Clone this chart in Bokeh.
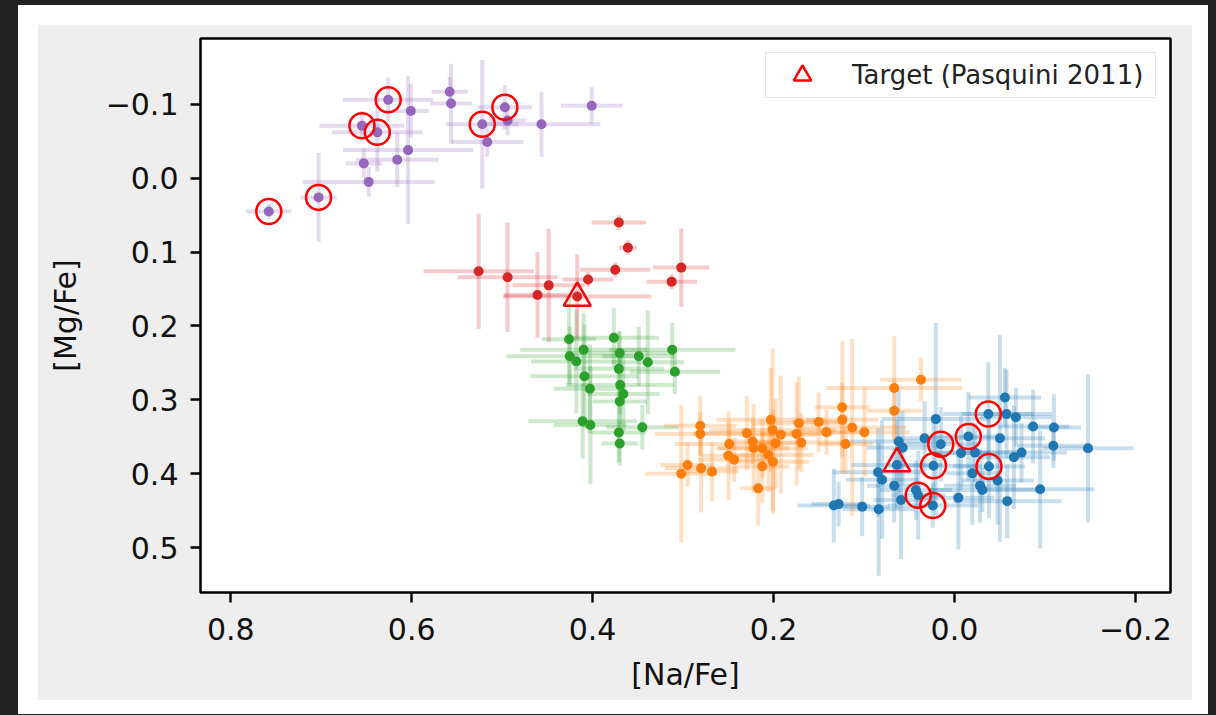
import numpy as np
from bokeh.plotting import figure
from bokeh.models import (Range1d, FixedTicker, CustomJSTickFormatter, Legend,
                          LegendItem)
from bokeh.layouts import column
from bokeh.embed import file_html
from bokeh.resources import INLINE

# ---------------- data ----------------
blue_na = [0.1333, 0.128, 0.102, 0.0837, 0.0845, 0.080, 0.0665, 0.0617, 0.0573, 0.059,
           0.0636, 0.0426, 0.040, 0.0239, 0.033, 0.0206, 0.0151, 0.0231, -0.0044, -0.0074,
           -0.0154, -0.0228, -0.0198, -0.0283, -0.0309, -0.0375, -0.0558, -0.0576, -0.068, -0.0503,
           -0.0382, -0.0477, -0.0584, -0.0658, -0.0742, -0.087, -0.110, -0.1094, -0.0948, -0.1477]
blue_mg = [0.443, 0.441, 0.4446, 0.448, 0.398, 0.408, 0.416, 0.3564, 0.3646, 0.4355,
           0.388, 0.422, 0.429, 0.443, 0.352, 0.326, 0.360, 0.389, 0.4324, 0.372,
           0.3496, 0.3713, 0.3994, 0.416, 0.422, 0.319, 0.2967, 0.319, 0.3234, 0.352,
           0.390, 0.409, 0.437, 0.3777, 0.3713, 0.336, 0.3374, 0.362, 0.421, 0.3654]
blue_xerr = [0.04, 0.03, 0.03, 0.04, 0.05, 0.04, 0.03, 0.06, 0.04, 0.03,
             0.05, 0.04, 0.03, 0.05, 0.03, 0.06, 0.04, 0.05, 0.04, 0.03,
             0.04, 0.05, 0.03, 0.04, 0.06, 0.05, 0.04, 0.05, 0.04, 0.05,
             0.04, 0.04, 0.06, 0.04, 0.05, 0.04, 0.03, 0.04, 0.06, 0.05]
blue_yerr = [0.05, 0.03, 0.04, 0.09, 0.06, 0.08, 0.05, 0.07, 0.05, 0.08,
             0.06, 0.04, 0.06, 0.03, 0.05, 0.13, 0.05, 0.06, 0.07, 0.05,
             0.06, 0.04, 0.07, 0.05, 0.03, 0.07, 0.04, 0.06, 0.04, 0.14,
             0.07, 0.06, 0.05, 0.07, 0.04, 0.05, 0.045, 0.03, 0.08, 0.10]

orange_na = [0.281, 0.281, 0.302, 0.295, 0.280, 0.268, 0.249, 0.2498, 0.2435, 0.2295,
             0.223, 0.222, 0.2123, 0.203, 0.201, 0.192, 0.1976, 0.2057, 0.2006, 0.2123,
             0.217, 0.172, 0.1745, 0.1693, 0.150, 0.1414, 0.124, 0.124, 0.113, 0.1205,
             0.0995, 0.0665, 0.037, 0.0665]
orange_mg = [0.335, 0.346, 0.400, 0.388, 0.3925, 0.397, 0.3596, 0.3754, 0.381, 0.345,
             0.3564, 0.3654, 0.3654, 0.327, 0.3406, 0.347, 0.3586, 0.3745, 0.3836, 0.390,
             0.4197, 0.3315, 0.346, 0.3578, 0.330, 0.3437, 0.310, 0.327, 0.3374, 0.3596,
             0.3437, 0.284, 0.2727, 0.3148]
orange_xerr = [0.04, 0.05, 0.04, 0.03, 0.04, 0.03, 0.06, 0.03, 0.04, 0.06,
               0.03, 0.04, 0.05, 0.06, 0.07, 0.04, 0.03, 0.05, 0.04, 0.03,
               0.02, 0.05, 0.04, 0.05, 0.03, 0.04, 0.03, 0.04, 0.06, 0.03,
               0.05, 0.075, 0.045, 0.03]
orange_yerr = [0.04, 0.03, 0.093, 0.03, 0.06, 0.04, 0.03, 0.06, 0.03, 0.05,
               0.03, 0.06, 0.04, 0.07, 0.11, 0.08, 0.06, 0.05, 0.07, 0.05,
               0.05, 0.063, 0.07, 0.04, 0.04, 0.03, 0.09, 0.05, 0.12, 0.04,
               0.06, 0.07, 0.03, 0.04]

green_na = [0.426, 0.3765, 0.410, 0.370, 0.4253, 0.418, 0.349, 0.339, 0.312, 0.309,
            0.371, 0.409, 0.403, 0.3695, 0.366, 0.370, 0.411, 0.4025, 0.345, 0.371, 0.370]
green_mg = [0.218, 0.216, 0.232, 0.2365, 0.241, 0.248, 0.241, 0.249, 0.232, 0.262,
            0.258, 0.268, 0.285, 0.280, 0.292, 0.302, 0.329, 0.334, 0.337, 0.344, 0.359]
green_xerr = [0.03, 0.05, 0.07, 0.06, 0.07, 0.05, 0.04, 0.04, 0.07, 0.05,
              0.05, 0.06, 0.04, 0.06, 0.04, 0.03, 0.06, 0.04, 0.04, 0.03, 0.02]
green_yerr = [0.06, 0.04, 0.05, 0.03, 0.04, 0.07, 0.04, 0.07, 0.036, 0.03,
              0.05, 0.07, 0.06, 0.04, 0.05, 0.03, 0.05, 0.08, 0.03, 0.04, 0.03]

red_na = [0.371, 0.361, 0.526, 0.494, 0.4485, 0.461, 0.405, 0.375, 0.302, 0.3126, 0.417]
red_mg = [0.060, 0.094, 0.126, 0.134, 0.145, 0.158, 0.137, 0.124, 0.121, 0.140, 0.160]
red_xerr = [0.03, 0.01, 0.061, 0.055, 0.04, 0.037, 0.028, 0.039, 0.031, 0.028, 0.082]
red_yerr = [0.01, 0.01, 0.078, 0.074, 0.077, 0.058, 0.01, 0.01, 0.053, 0.01, 0.057]

purple_na = [0.626, 0.601, 0.558, 0.5565, 0.655, 0.638, 0.522, 0.497, 0.494, 0.4565,
             0.401, 0.5165, 0.604, 0.616, 0.653, 0.6476, 0.703, 0.758]
purple_mg = [-0.106, -0.091, -0.117, -0.101, -0.071, -0.062, -0.073, -0.096, -0.078, -0.073,
             -0.098, -0.049, -0.038, -0.025, -0.020, 0.005, 0.026, 0.045]
purple_xerr = [0.05, 0.02, 0.02, 0.023, 0.047, 0.05, 0.04, 0.03, 0.02, 0.065,
               0.034, 0.04, 0.072, 0.046, 0.02, 0.073, 0.02, 0.025]
purple_yerr = [0.03, 0.036, 0.02, 0.054, 0.02, 0.053, 0.087, 0.03, 0.02, 0.044,
               0.025, 0.02, 0.10, 0.037, 0.02, 0.02, 0.06, 0.01]

# stars marked with open red circles (indices into each group)
blue_circled = [12, 13, 16, 17, 20, 25, 30]
purple_circled = [0, 4, 5, 6, 7, 16, 17]

# target (Pasquini 2011)
target_na = [0.417, 0.0636]
target_mg = [0.162, 0.386]

x_ticks = [0.8, 0.6, 0.4, 0.2, 0.0, -0.2]
y_ticks = [-0.1, 0.0, 0.1, 0.2, 0.3, 0.4, 0.5]

groups = [
    ("#1f77b4", blue_na, blue_mg, blue_xerr, blue_yerr),
    ("#ff7f0e", orange_na, orange_mg, orange_xerr, orange_yerr),
    ("#2ca02c", green_na, green_mg, green_xerr, green_yerr),
    ("#d62728", red_na, red_mg, red_xerr, red_yerr),
    ("#9467bd", purple_na, purple_mg, purple_xerr, purple_yerr),
]

FONT = "DejaVu Sans"

p = figure(width=1155, height=676,
           x_range=Range1d(0.8335, -0.2389), y_range=Range1d(0.5606, -0.189),
           output_backend="svg", toolbar_location=None,
           min_border_left=163, min_border_right=22, min_border_top=14, min_border_bottom=108,
           border_fill_color="#eeeeee", background_fill_color="white",
           outline_line_color="black", outline_line_width=2.5)
p.grid.visible = False

for color, na, mg, xe, ye in groups:
    na = np.array(na); mg = np.array(mg); xe = np.array(xe); ye = np.array(ye)
    p.segment(x0=na - xe, y0=mg, x1=na + xe, y1=mg, line_color=color, line_alpha=0.24, line_width=4)
    p.segment(x0=na, y0=mg - ye, x1=na, y1=mg + ye, line_color=color, line_alpha=0.24, line_width=4)
    p.scatter(na, mg, size=10, fill_color=color, line_color=None)

circ_na = [blue_na[i] for i in blue_circled] + [purple_na[i] for i in purple_circled]
circ_mg = [blue_mg[i] for i in blue_circled] + [purple_mg[i] for i in purple_circled]
p.scatter(circ_na, circ_mg, marker="circle", size=25, fill_color=None,
          line_color="#ff0000", line_width=2.5)

tri = p.scatter(target_na, target_mg, marker="triangle", size=27, fill_color=None,
                line_color="#ff0000", line_width=2.5)

legend = Legend(items=[LegendItem(label="Target (Pasquini 2011)", renderers=[tri])],
                location="top_right", margin=14, padding=0, glyph_width=72, glyph_height=44,
                label_standoff=14, label_width=303, spacing=0,
                label_text_font=FONT, label_text_font_size="26px", label_text_color="#222222",
                border_line_color="#cccccc", border_line_width=1.5,
                background_fill_color="white", background_fill_alpha=0.8)
p.add_layout(legend)

fmt = CustomJSTickFormatter(code="return tick.toFixed(1).replace('-', '\u2212');")
for ax, ticks in ((p.xaxis[0], x_ticks), (p.yaxis[0], y_ticks)):
    ax.ticker = FixedTicker(ticks=ticks)
    ax.formatter = fmt
    ax.major_label_text_font = FONT
    ax.major_label_text_font_size = "30px"
    ax.major_label_text_color = "#111111"
    ax.axis_label_text_font = FONT
    ax.axis_label_text_font_size = "30px"
    ax.axis_label_text_font_style = "normal"
    ax.axis_label_text_color = "#111111"
    ax.axis_line_color = None
    ax.major_tick_in = 0
    ax.major_tick_out = 10
    ax.major_tick_line_width = 2.4
    ax.major_tick_line_color = "black"
    ax.minor_tick_line_color = None

p.xaxis.axis_label = "[Na/Fe]"
p.yaxis.axis_label = "[Mg/Fe]"
p.xaxis.major_label_standoff = 15
p.yaxis.major_label_standoff = 12
p.xaxis.axis_label_standoff = 14
p.yaxis.axis_label_standoff = 20

p.margin = (19, 16, 14, 19)
white = column(p, styles={"background-color": "white"}, width=1190, height=709)
white.margin = (5, 8, 1, 18)
outer = column(white, styles={"background-color": "#222222"}, width=1216, height=715)

open("out.html", "w").write(file_html(outer, INLINE))
